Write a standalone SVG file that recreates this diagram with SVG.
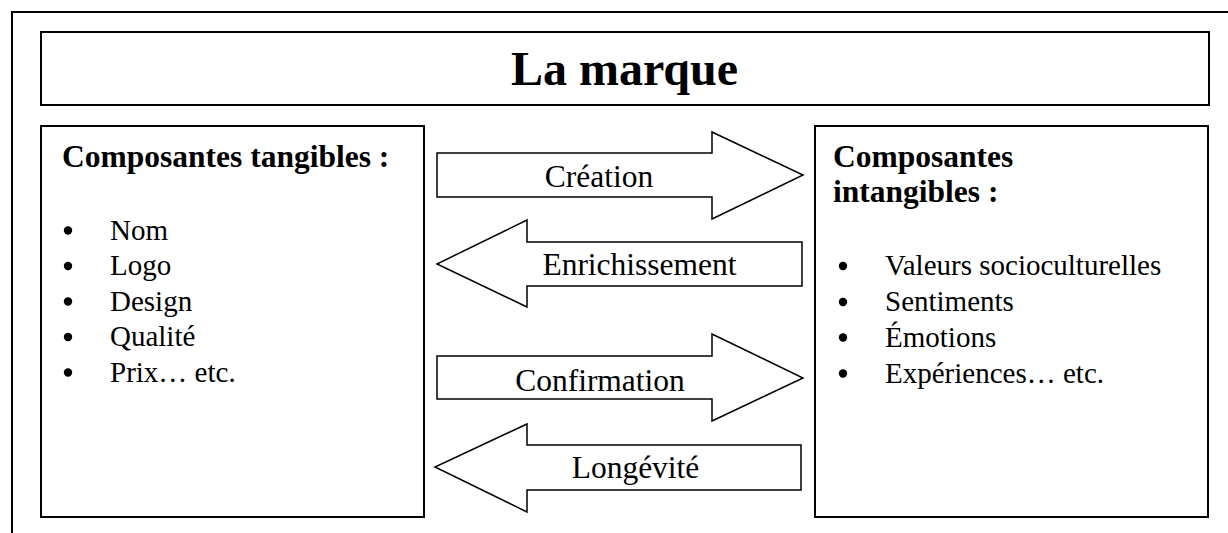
<svg xmlns="http://www.w3.org/2000/svg" width="1228" height="533" viewBox="0 0 1228 533">
<style>
.box{fill:#fff;stroke:#000;stroke-width:2}
.arr{fill:#fff;stroke:#000;stroke-width:1.5;stroke-linejoin:miter}
.t{font-family:"Liberation Serif","Times New Roman",serif;fill:#000}
.title{font-size:48px;font-weight:bold}
.head{font-size:31.5px;font-weight:bold}
.item{font-size:29px}
.lbl{font-size:31.5px;text-anchor:middle}
</style>
<rect width="1228" height="533" fill="#fff"/>
<path d="M12,533 V12 H1228" fill="none" stroke="#000" stroke-width="2"/>
<g id="title">
<rect class="box" x="41" y="32" width="1168" height="73"/>
<text class="t title" x="624.5" y="85" text-anchor="middle">La marque</text>
</g>
<g id="tangibles">
<rect class="box" x="41" y="126" width="383" height="391"/>
<text class="t head" x="62" y="167">Composantes tangibles :</text>
<g fill="#000">
<circle cx="68" cy="230.5" r="4.2"/>
<circle cx="68" cy="266" r="4.2"/>
<circle cx="68" cy="301.5" r="4.2"/>
<circle cx="68" cy="337" r="4.2"/>
<circle cx="68" cy="372.5" r="4.2"/>
</g>
<text class="t item" x="110" y="239.5">Nom</text>
<text class="t item" x="110" y="275">Logo</text>
<text class="t item" x="110" y="310.5">Design</text>
<text class="t item" x="110" y="346">Qualité</text>
<text class="t item" x="110" y="381.5">Prix… etc.</text>
</g>
<g id="intangibles">
<rect class="box" x="815" y="126" width="393" height="391"/>
<text class="t head" x="833" y="167">Composantes</text>
<text class="t head" x="833" y="202">intangibles :</text>
<g fill="#000">
<circle cx="843" cy="266" r="4.2"/>
<circle cx="843" cy="302" r="4.2"/>
<circle cx="843" cy="337.5" r="4.2"/>
<circle cx="843" cy="373.5" r="4.2"/>
</g>
<text class="t item" x="885" y="275">Valeurs socioculturelles</text>
<text class="t item" x="885" y="311">Sentiments</text>
<text class="t item" x="885" y="346.5">Émotions</text>
<text class="t item" x="885" y="382.5">Expériences… etc.</text>
</g>
<g id="connectors">
<g id="creation">
<polygon class="arr" points="437,153 712,153 712,132 803,175 712,219 712,197 437,197"/>
<text class="t lbl" x="599" y="187">Création</text>
</g>
<g id="enrichissement">
<polygon class="arr" points="802,242 527,242 527,220 437,264 527,307 527,286 802,286"/>
<text class="t lbl" x="639.5" y="275">Enrichissement</text>
</g>
<g id="confirmation">
<polygon class="arr" points="437,356 712,356 712,334 803,378 712,421 712,399 437,399"/>
<text class="t lbl" x="600" y="391">Confirmation</text>
</g>
<g id="longevite">
<polygon class="arr" points="801,445 527,445 527,424 435,467 527,512 527,490 801,490"/>
<text class="t lbl" x="635.5" y="478">Longévité</text>
</g>
</g>
</svg>
